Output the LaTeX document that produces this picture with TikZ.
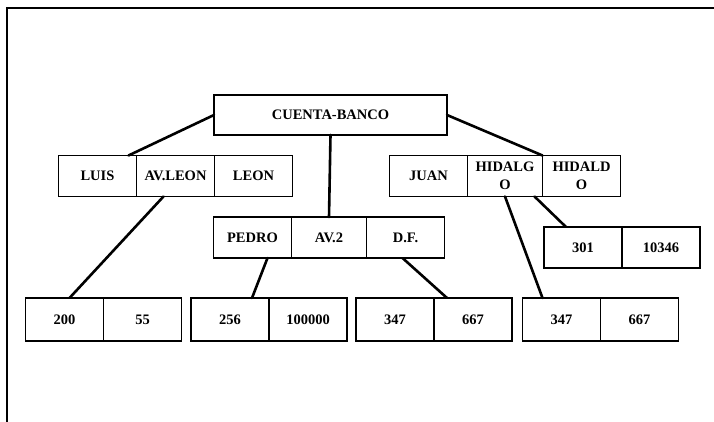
\documentclass[tikz,border=0pt]{standalone}
\usepackage{fontspec}
\setmainfont{Liberation Serif}
\usetikzlibrary{positioning}
\begin{document}
\begin{tikzpicture}[x=1pt, y=1pt,
    celda/.style={draw, line width=1.8pt, rectangle, outer sep=0pt, inner sep=0pt,
      minimum width=78pt, minimum height=41pt, align=center,
      font=\fontsize{14.5}{18}\selectfont\bfseries},
    enlace/.style={line width=2.6pt, line cap=round}]
    \useasboundingbox (0,0) rectangle (714,422);
    \draw[line width=2pt] (7,0) -- (7,414) -- (714,414);

    % registro raiz
    \node[celda, minimum width=233pt, minimum height=40pt] (raiz) at (330.5,307) {CUENTA-BANCO};

    % nivel 1
    \node[celda] (luis) at (97.5,246) {LUIS};
    \node[celda, right=0pt of luis] (avleon) {AV.LEON};
    \node[celda, right=0pt of avleon] (leon) {LEON};

    \node[celda] (pedro) at (252.5,184.5) {PEDRO};
    \node[celda, minimum width=75pt, right=0pt of pedro] (avdos) {AV.2};
    \node[celda, right=0pt of avdos] (df) {D.F.};

    \node[celda] (juan) at (428.5,246) {JUAN};
    \node[celda, minimum width=75pt, right=0pt of juan] (hidalgo) {HIDALG\\O};
    \node[celda, right=0pt of hidalgo] (hidaldo) {HIDALD\\O};

    % nivel 2
    \node[celda] (cta301) at (583,174.5) {301};
    \node[celda, right=0pt of cta301] (sal301) {10346};

    \node[celda, minimum height=43pt] (cta200) at (64.5,102.5) {200};
    \node[celda, minimum height=43pt, right=0pt of cta200] (sal200) {55};

    \node[celda, minimum height=43pt] (cta256) at (230,102.5) {256};
    \node[celda, minimum height=43pt, right=0pt of cta256] (sal256) {100000};

    \node[celda, minimum height=43pt] (cta347a) at (395,102.5) {347};
    \node[celda, minimum height=43pt, right=0pt of cta347a] (sal347a) {667};

    \node[celda, minimum height=43pt] (cta347b) at (561.5,102.5) {347};
    \node[celda, minimum height=43pt, right=0pt of cta347b] (sal347b) {667};

    % enlaces
    \draw[enlace] (raiz.west) -- ([xshift=-8pt]luis.north east);
    \draw[enlace] (raiz.east) -- (hidalgo.north east);
    \draw[enlace] (raiz.south) -- (avdos.north);
    \draw[enlace] ([xshift=-12pt]avleon.south) -- ([xshift=5pt]cta200.north);
    \draw[enlace] ([xshift=15pt]pedro.south) -- ([xshift=22pt]cta256.north);
    \draw[enlace] ([xshift=-3pt]df.south) -- ([xshift=13pt]sal347a.north west);
    \draw[enlace] (hidalgo.south) -- ([xshift=-19pt]cta347b.north);
    \draw[enlace] ([xshift=-8pt]hidalgo.south east) -- ([xshift=-17pt]cta301.north);
\end{tikzpicture}
\end{document}
